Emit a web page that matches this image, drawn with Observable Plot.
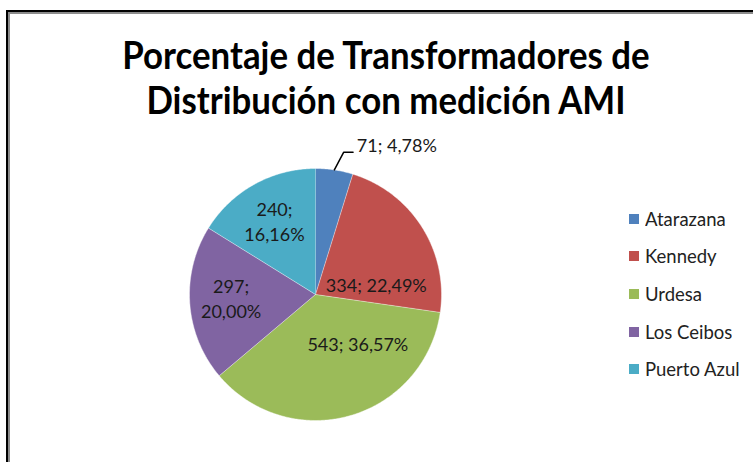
<!DOCTYPE html>
<html>
<head>
<meta charset="utf-8">
<script src="https://cdn.jsdelivr.net/npm/d3@7"></script>
<script src="https://cdn.jsdelivr.net/npm/@observablehq/plot@0.6"></script>
<style>
  html, body { margin: 0; padding: 0; background: #fff; }
  #wrap { position: relative; width: 753px; height: 462px; overflow: hidden; background: #fff; font-family: Lato, "Open Sans", sans-serif; }
  #frame { position: absolute; left: 6px; top: 10px; width: 800px; height: 500px; border-top: 2px solid #000; border-left: 2px solid #000; box-sizing: border-box; }
  #frame2 { position: absolute; left: 8px; top: 12px; width: 800px; height: 500px; border-top: 2px solid #8c8c8c; border-left: 2px solid #8c8c8c; box-sizing: border-box; }
  #chart { position: absolute; left: 0; top: 0; }
  #title { position: absolute; left: 0; top: 32px; width: 772px; text-align: center; font-weight: bold; color: #000; line-height: 45px; font-family: Lato, "Open Sans", sans-serif; transform-origin: 386px 50%; }
  #legend { position: absolute; left: 629px; top: 200px; }
  #legend div[class$="-swatch"] { height: 37.6px; padding: 0; margin: 0; font-size: 18.5px; color: #222; font-family: Lato, "Open Sans", sans-serif; }
  #legend div[class$="-swatch"] > svg { margin-right: 6px; }
</style>
</head>
<body>
<div id="wrap">
  <div id="chart"></div>
  <div id="frame"></div>
  <div id="frame2"></div>
  <div id="title">Porcentaje de Transformadores de<br>Distribución con medición AMI</div>
  <div id="legend"></div>
</div>
<script>
// ---- data ----
const names  = ["Atarazana", "Kennedy", "Urdesa", "Los Ceibos", "Puerto Azul"];
const values = [71, 334, 543, 297, 240];
const colors = ["#4F81BD", "#C0504D", "#9BBB59", "#8064A2", "#4BACC6"];

// ---- layout helpers ----
const total = d3.sum(values);
const pct = v => (v / total * 100).toFixed(2).replace(".", ",") + "%";

// cumulative angles, clockwise from 12 o'clock
let acc = 0;
const slices = names.map((name, i) => {
  const a0 = acc / total * 2 * Math.PI;
  acc += values[i];
  const a1 = acc / total * 2 * Math.PI;
  return {name, value: values[i], a0, a1, mid: (a0 + a1) / 2};
});

// polygon points for each slice (unit circle in data space)
const pts = [];
for (const s of slices) {
  pts.push({name: s.name, x: 0, y: 0});
  const n = Math.max(2, Math.ceil((s.a1 - s.a0) / 0.01));
  for (let k = 0; k <= n; k++) {
    const a = s.a0 + (s.a1 - s.a0) * k / n;
    pts.push({name: s.name, x: Math.sin(a), y: Math.cos(a)});
  }
}

// label placement (Excel "best fit" style)
const labelPlace = {
  "Kennedy":     {da: 0.39, r: 0.49, wrap: false},
  "Urdesa":      {da: -0.44, r: 0.51, wrap: false},
  "Los Ceibos":  {da: 0.04, r: 0.67, wrap: true},
  "Puerto Azul": {da: 0.0, r: 0.67, wrap: true}
};
const inside = slices.filter(s => labelPlace[s.name]).map(s => {
  const p = labelPlace[s.name];
  const a = s.mid + p.da;
  const sep = p.wrap ? ";\n" : "; ";
  return {x: p.r * Math.sin(a), y: p.r * Math.cos(a), text: s.value + sep + pct(s.value)};
});

// outside label with leader line for the small slice
const small = slices[0];
const p1 = {x: Math.sin(small.mid), y: Math.cos(small.mid)};
const a2 = small.mid + 0.045;
const p2 = {x: 1.15 * Math.sin(a2), y: 1.15 * Math.cos(a2)};
const p3 = {x: p2.x + 0.075, y: p2.y};
const leader = [p1, p2, p3];
const outside = [{x: p3.x + 0.03, y: p3.y, text: small.value + "; " + pct(small.value)}];

const chart = Plot.plot({
  width: 753,
  height: 462,
  margin: 0,
  x: {domain: [-1, 1], range: [189, 441], axis: null},
  y: {domain: [-1, 1], range: [420, 168], axis: null},
  color: {domain: names, range: colors},
  style: {background: "transparent", overflow: "visible"},
  marks: [
    Plot.line(pts, {x: "x", y: "y", z: "name", fill: "name", stroke: "#ffffff", strokeWidth: 0.6, strokeOpacity: 0.7, curve: "linear"}),
    Plot.text(inside, {x: "x", y: "y", text: "text", fontSize: 18, fill: "#1a1a1a", lineHeight: 1.39, fontFamily: "Lato, 'Open Sans', sans-serif"}),
    Plot.line(leader, {x: "x", y: "y", stroke: "#000", strokeWidth: 1.5, curve: "linear"}),
    Plot.text(outside, {x: "x", y: "y", text: "text", textAnchor: "start", dy: -6, fontSize: 18, fill: "#1a1a1a", fontFamily: "Lato, 'Open Sans', sans-serif"})
  ]
});
document.getElementById("chart").appendChild(chart);

// legend
const legend = Plot.legend({
  color: {domain: names, range: colors},
  legend: "swatches",
  columns: 1,
  swatchSize: 10
});
document.getElementById("legend").appendChild(legend);

// fit the title's first line to the reference width (taller glyphs, compressed horizontally)
const ctx = document.createElement("canvas").getContext("2d");
ctx.font = "bold 100px Lato";
const w = ctx.measureText("Porcentaje de Transformadores de").width;
const stretch = 1.1;
const titleEl = document.getElementById("title");
titleEl.style.fontSize = (100 * 528 / w * stretch).toFixed(1) + "px";
titleEl.style.transform = "scaleX(" + (1 / stretch).toFixed(4) + ")";
</script>
</body>
</html>
